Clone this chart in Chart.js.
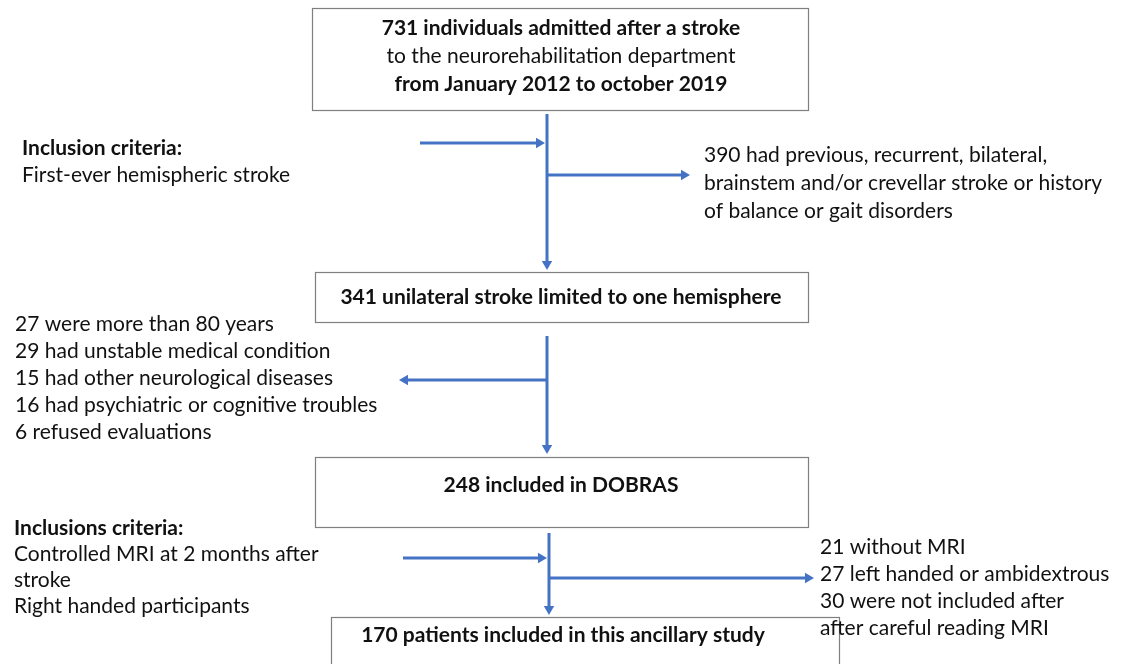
<!DOCTYPE html>
<html>
<head>
<meta charset="utf-8">
<script src="https://cdn.jsdelivr.net/npm/chart.js@4.4.1/dist/chart.umd.min.js"></script>
<style>
  html, body { margin: 0; padding: 0; background: #fff; }
  #wrap { width: 1137px; height: 664px; }
</style>
</head>
<body>
<div id="wrap"><canvas id="flow" width="1137" height="664"></canvas></div>
<script>
// Flow content (text + counts)
const admittedLines = ['731 individuals admitted after a stroke', 'to the neurorehabilitation department', 'from January 2012 to october 2019'];
const admittedBold  = [true, false, true];
const stageLabels   = ['341 unilateral stroke limited to one hemisphere', '248 included in DOBRAS', '170 patients included in this ancillary study'];
const criteria1     = ['Inclusion criteria:', 'First-ever hemispheric stroke'];
const excluded1     = ['390 had previous, recurrent, bilateral,', 'brainstem and/or crevellar stroke or history', 'of balance or gait disorders'];
const excluded2     = ['27 were more than 80 years', '29 had unstable medical condition', '15 had other neurological diseases', '16 had psychiatric or cognitive troubles', '6 refused evaluations'];
const criteria2     = ['Inclusions criteria:', 'Controlled MRI at 2 months after', 'stroke', 'Right handed participants'];
const excluded3     = ['21 without MRI', '27 left handed or ambidextrous', '30 were not included after', 'after careful reading MRI'];

// Layout (chart units = page pixels, y grows downward)
const layout = {
  boxes: [
    { x0: 312, y0: 8,   x1: 808, y1: 110 },
    { x0: 315, y0: 272, x1: 808, y1: 322 },
    { x0: 315, y0: 457, x1: 808, y1: 527 },
    { x0: 331, y0: 617, x1: 839, y1: 690 }
  ],
  admittedText: { x: 561, y: [28, 56, 84] },
  stageText: [{ x: 561, y: 297 }, { x: 561, y: 485 }, { x: 563, y: 635 }],
  criteria1: { x: 22, y: [148, 175] },
  excluded1: { x: 704, y: [155, 183, 211] },
  excluded2: { x: 15, y: [324, 351, 378, 405, 432] },
  criteria2: { x: 14, y: [528, 554, 580, 606] },
  excluded3: { x: 820, y: [547, 574, 601, 628] },
  // arrows: from -> tip, head direction in degrees (0 up, 90 right, 180 down, 270 left)
  arrows: [
    { from: [547, 114], tip: [547, 270], rot: 180 },
    { from: [420, 143], tip: [545, 143], rot: 90 },
    { from: [548, 175], tip: [690, 175], rot: 90 },
    { from: [547, 336], tip: [547, 454], rot: 180 },
    { from: [546, 380], tip: [399, 380], rot: 270 },
    { from: [549, 533], tip: [549, 615], rot: 180 },
    { from: [403, 558], tip: [547, 558], rot: 90 },
    { from: [550, 578], tip: [814, 578], rot: 90 }
  ]
};

const BLUE = '#4472c4';
const HEAD = 6;
const FONT = 'Lato, "Open Sans", sans-serif';
const FS = 21;

// one line dataset per arrow; the end point carries the triangle head
const arrowSets = layout.arrows.map(a => {
  const dx = Math.sign(a.tip[0] - a.from[0]), dy = Math.sign(a.tip[1] - a.from[1]);
  return {
    data: [{ x: a.from[0], y: a.from[1] }, { x: a.tip[0] - dx * HEAD, y: a.tip[1] - dy * HEAD }],
    showLine: true,
    borderColor: BLUE,
    borderWidth: 3,
    pointStyle: 'triangle',
    pointRadius: [0, HEAD],
    pointRotation: [0, a.rot],
    pointBackgroundColor: BLUE,
    pointBorderWidth: 0,
    clip: false
  };
});

const flowPlugin = {
  id: 'flow',
  beforeDatasetsDraw(chart) {
    const { ctx, scales: { x, y } } = chart;
    ctx.save();
    ctx.strokeStyle = '#7f7f7f';
    ctx.lineWidth = 1.2;
    ctx.fillStyle = '#fff';
    layout.boxes.forEach(b => {
      const px = x.getPixelForValue(b.x0), py = y.getPixelForValue(b.y0);
      const w = x.getPixelForValue(b.x1) - px, h = y.getPixelForValue(b.y1) - py;
      ctx.fillRect(px, py, w, h);
      ctx.strokeRect(px + 0.5, py + 0.5, w, h);
    });
    ctx.restore();
  },
  afterDatasetsDraw(chart) {
    const { ctx, scales: { x, y } } = chart;
    ctx.save();
    ctx.fillStyle = '#111';
    ctx.textBaseline = 'middle';
    const put = (t, vx, vy, bold, align) => {
      ctx.font = (bold ? 'bold ' : '') + FS + 'px ' + FONT;
      ctx.textAlign = align || 'left';
      ctx.fillText(t, x.getPixelForValue(vx), y.getPixelForValue(vy));
    };
    admittedLines.forEach((t, i) => put(t, layout.admittedText.x, layout.admittedText.y[i], admittedBold[i], 'center'));
    stageLabels.forEach((t, i) => put(t, layout.stageText[i].x, layout.stageText[i].y, true, 'center'));
    criteria1.forEach((t, i) => put(t, layout.criteria1.x, layout.criteria1.y[i], i === 0));
    excluded1.forEach((t, i) => put(t, layout.excluded1.x, layout.excluded1.y[i], false));
    excluded2.forEach((t, i) => put(t, layout.excluded2.x, layout.excluded2.y[i], false));
    criteria2.forEach((t, i) => put(t, layout.criteria2.x, layout.criteria2.y[i], i === 0));
    excluded3.forEach((t, i) => put(t, layout.excluded3.x, layout.excluded3.y[i], false));
    ctx.restore();
  }
};

new Chart(document.getElementById('flow').getContext('2d'), {
  type: 'scatter',
  data: { datasets: arrowSets },
  options: {
    responsive: false,
    animation: false,
    layout: { padding: 0, autoPadding: false },
    plugins: { legend: { display: false }, tooltip: { enabled: false } },
    scales: {
      x: { type: 'linear', min: 0, max: 1137, display: false },
      y: { type: 'linear', min: 0, max: 664, reverse: true, display: false }
    }
  },
  plugins: [flowPlugin]
});
</script>
</body>
</html>
